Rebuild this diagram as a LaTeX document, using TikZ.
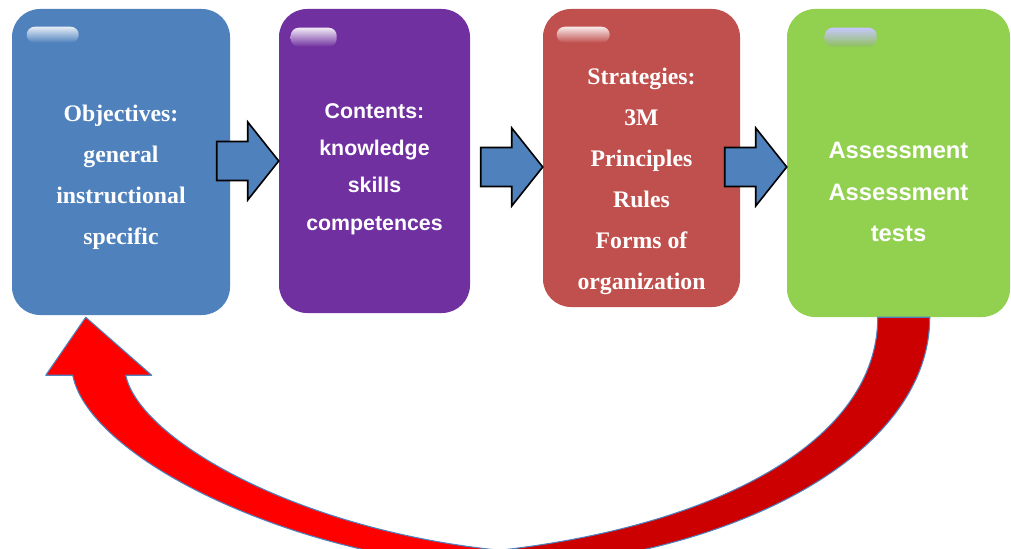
\documentclass[tikz,border=0pt]{standalone}
\usepackage{fontspec}
\setmainfont{Liberation Serif}
\setsansfont{Liberation Sans}
\usetikzlibrary{calc}

\definecolor{objblue}{HTML}{4F81BD}
\definecolor{conpurple}{HTML}{7030A0}
\definecolor{strred}{HTML}{C0504D}
\definecolor{assgreen}{HTML}{92D050}
\definecolor{fbdark}{HTML}{CC0000}
\definecolor{fbbright}{HTML}{FF0000}

\begin{document}
\begin{tikzpicture}[x=0.75pt,y=-0.75pt,
  box/.style={rectangle,rounded corners=21pt,inner sep=0pt},
  txt/.style={text=white,align=center,font=\bfseries\fontsize{17.8}{30.75}\selectfont},
  stxt/.style={text=white,align=center,font=\sffamily\bfseries\fontsize{16}{28.1}\selectfont},
  gtxt/.style={text=white,align=center,font=\sffamily\bfseries\fontsize{17.8}{31.1}\selectfont},
  tab/.style={rounded corners=6pt},
  blockarr/.style={draw=black,line width=1.2pt,fill=objblue,
    to path={(\tikztotarget) -- ++(-31,-39) -- ++(0,19.5) -- ++(-31,0) -- ++(0,39) -- ++(31,0) -- ++(0,19.5) -- cycle}},
  backarr/.style={draw=objblue,line width=0.8pt,line join=round}]
  \useasboundingbox (0,0) rectangle (1011,549);
  \clip (0,0) rectangle (1011,549);

  \node[box,fill=objblue,minimum width=163.5pt,minimum height=229.5pt] (obj) at (121,162) {};
  \node[box,fill=conpurple,minimum width=143.25pt,minimum height=228pt] (con) at (374.5,161) {};
  \node[box,fill=strred,minimum width=147.75pt,minimum height=223.5pt] (str) at (641.5,158) {};
  \node[box,fill=assgreen,minimum width=167.25pt,minimum height=231pt] (ass) at (898.5,163) {};

  \shade[tab,top color=white!85!objblue,middle color=white!65!objblue,bottom color=objblue]
    ($(obj.north west)+(15,18)$) rectangle ++(52,16);
  \shade[tab,top color=white!90!conpurple,middle color=white!65!conpurple,bottom color=conpurple]
    ($(con.north west)+(12,19)$) rectangle ++(46,19);
  \shade[tab,top color=white!88!strred,middle color=white!65!strred,bottom color=strred]
    ($(str.north west)+(14,18)$) rectangle ++(53,16);
  \shade[tab,top color=blue!22!white,middle color=blue!15!gray!60!white,bottom color=assgreen!80!gray]
    ($(ass.north west)+(38,19)$) rectangle ++(52,19);

  \node[txt] (objt) at ($(obj.center)+(0,15)$) {Objectives:\\general\\instructional\\specific};
  \node[stxt] (cont) at ($(con.center)+(0,8)$) {Contents:\\knowledge\\skills\\competences};
  \node[txt] (strt) at ($(str.center)+(0,23)$) {Strategies:\\3M\\Principles\\Rules\\Forms of\\organization};
  \node[gtxt] (asst) at ($(ass.center)+(0,29)$) {Assessment\\Assessment\\tests};

  \draw[blockarr] (obj) to (con.west);
  \draw[blockarr] (con) to ($(str.west)+(0,9)$);
  \draw[blockarr] (str) to ($(ass.west)+(0,4)$);

  \coordinate (fbtop) at ($(ass.south west)+(91,0)$);
  \coordinate (fbtip) at ($(obj.south west)+(74,2)$);
  \filldraw[backarr,fill=fbdark] (fbtop) .. controls +(0,123) and +(220,-25) .. ++(-378,233)
    -- ++(0,18) .. controls +(220,-8) and +(0,143) .. ++(430,-251) -- cycle;
  \filldraw[backarr,fill=fbbright] (fbtip) -- ++(66,58) -- ++(-26,0)
    .. controls +(14,65) and +(-200,-20) .. ++(374,175) -- ++(0,18)
    .. controls +(-200,-8) and +(17,85) .. ++(-427,-193) -- ++(-27,0) -- cycle;
\end{tikzpicture}
\end{document}
